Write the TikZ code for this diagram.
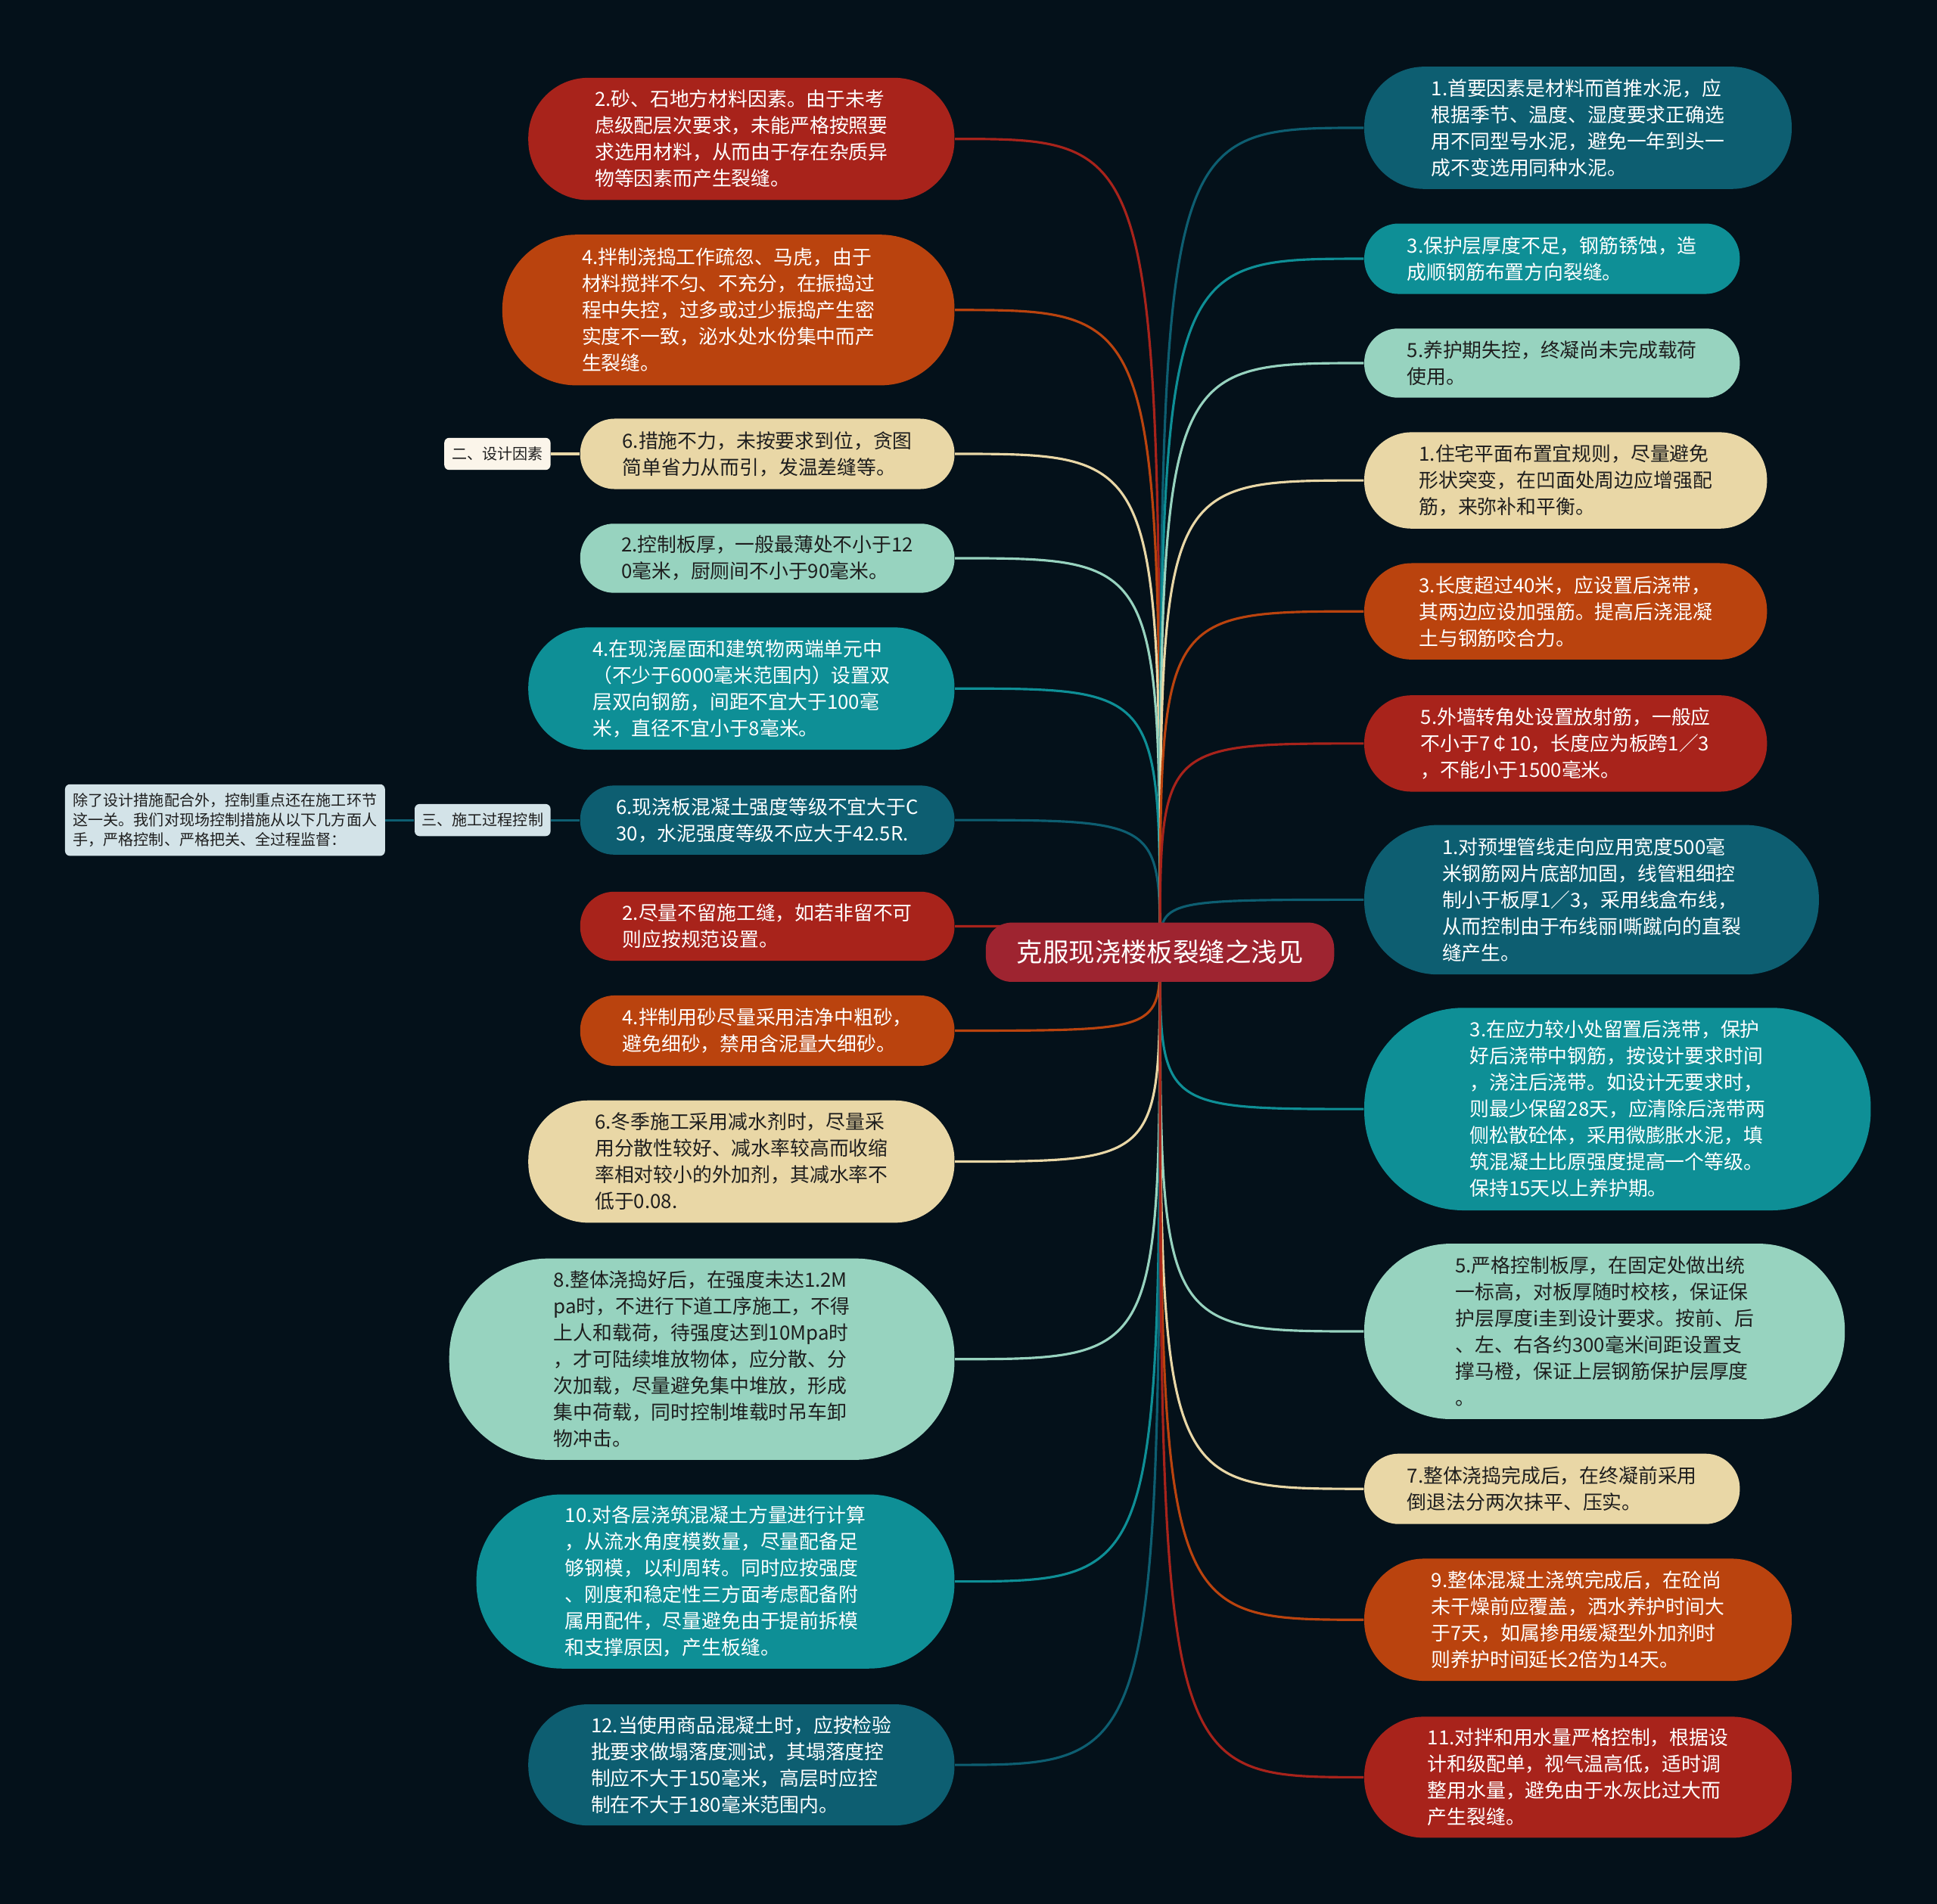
\documentclass[tikz,border=0pt]{standalone}
\usepackage{fontspec}
\setmainfont{Noto Sans CJK SC}
\usetikzlibrary{backgrounds}

\definecolor{bgdark}{HTML}{04111A}
\definecolor{cred}{HTML}{A8231B}
\definecolor{corange}{HTML}{BA430E}
\definecolor{cbeige}{HTML}{E9D7A6}
\definecolor{cmint}{HTML}{97D3BF}
\definecolor{cteal}{HTML}{0E8F96}
\definecolor{cpetrol}{HTML}{0D5E71}
\definecolor{croot}{HTML}{9E2430}
\definecolor{cnote}{HTML}{D3E3E8}
\definecolor{ccream}{HTML}{FBF5EA}
\definecolor{ink}{HTML}{1E1E1E}

\begin{document}
\begin{tikzpicture}[
        leaf/.style 2 args={
            minimum width=#1cm, minimum height=#2cm,
            rounded corners=#2*0.49cm, inner sep=2pt,
            align=left, text=white,
            font=\fontsize{9}{12.2}\selectfont,
        },
        light/.style={text=ink},
        root box/.style={
            fill=croot, text=white, rounded corners=0.42cm,
            minimum width=5.64cm, minimum height=0.96cm,
            font=\fontsize{12}{14}\selectfont,
        },
        tag/.style={
            rounded corners=0.08cm, text=ink, align=left,
            inner sep=2pt, font=\fontsize{7}{9}\selectfont,
        },
        link/.style={draw=#1, line width=1.1pt},
    ]
    \useasboundingbox (0,0) rectangle (31.36,-30.83);

    \node[root box] (root) at (18.78,-15.42) {克服现浇楼板裂缝之浅见};

    % left side
    \node[leaf={6.9}{1.98}, fill=cred, anchor=east] (L1) at (15.46,-2.25)
        {2.砂、石地方材料因素。由于未考\\虑级配层次要求，未能严格按照要\\求选用材料，从而由于存在杂质异\\物等因素而产生裂缝。};
    \node[leaf={7.32}{2.44}, fill=corange, anchor=east] (L2) at (15.46,-5.02)
        {4.拌制浇捣工作疏忽、马虎，由于\\材料搅拌不匀、不充分，在振捣过\\程中失控，过多或过少振捣产生密\\实度不一致，泌水处水份集中而产\\生裂缝。};
    \node[leaf={6.06}{1.14}, fill=cbeige, light, anchor=east] (L3) at (15.46,-7.35)
        {6.措施不力，未按要求到位，贪图\\简单省力从而引，发温差缝等。};
    \node[leaf={6.06}{1.12}, fill=cmint, light, anchor=east] (L4) at (15.46,-9.04)
        {2.控制板厚，一般最薄处不小于12\\0毫米，厨厕间不小于90毫米。};
    \node[leaf={6.9}{1.98}, fill=cteal, anchor=east] (L5) at (15.46,-11.15)
        {4.在现浇屋面和建筑物两端单元中\\（不少于6000毫米范围内）设置双\\层双向钢筋，间距不宜大于100毫\\米，直径不宜小于8毫米。};
    \node[leaf={6.06}{1.12}, fill=cpetrol, anchor=east] (L6) at (15.46,-13.28)
        {6.现浇板混凝土强度等级不宜大于C\\30，水泥强度等级不应大于42.5R.};
    \node[leaf={6.06}{1.12}, fill=cred, anchor=east] (L7) at (15.46,-15.00)
        {2.尽量不留施工缝，如若非留不可\\则应按规范设置。};
    \node[leaf={6.06}{1.14}, fill=corange, anchor=east] (L8) at (15.46,-16.69)
        {4.拌制用砂尽量采用洁净中粗砂，\\避免细砂，禁用含泥量大细砂。};
    \node[leaf={6.9}{1.98}, fill=cbeige, light, anchor=east] (L9) at (15.46,-18.81)
        {6.冬季施工采用减水剂时，尽量采\\用分散性较好、减水率较高而收缩\\率相对较小的外加剂，其减水率不\\低于0.08.};
    \node[leaf={8.18}{3.26}, fill=cmint, light, anchor=east] (L10) at (15.46,-22.01)
        {8.整体浇捣好后，在强度未达1.2M\\pa时，不进行下道工序施工，不得\\上人和载荷，待强度达到10Mpa时\\，才可陆续堆放物体，应分散、分\\次加载，尽量避免集中堆放，形成\\集中荷载，同时控制堆载时吊车卸\\物冲击。};
    \node[leaf={7.74}{2.82}, fill=cteal, anchor=east] (L11) at (15.46,-25.61)
        {10.对各层浇筑混凝土方量进行计算\\，从流水角度模数量，尽量配备足\\够钢模，以利周转。同时应按强度\\、刚度和稳定性三方面考虑配备附\\属用配件，尽量避免由于提前拆模\\和支撑原因，产生板缝。};
    \node[leaf={6.9}{1.96}, fill=cpetrol, anchor=east] (L12) at (15.46,-28.58)
        {12.当使用商品混凝土时，应按检验\\批要求做塌落度测试，其塌落度控\\制应不大于150毫米，高层时应控\\制在不大于180毫米范围内。};

    % tags on the left
    \node[tag, fill=ccream, minimum width=1.72cm, minimum height=0.52cm, anchor=east] (design) at (8.92,-7.35) {二、设计因素};
    \node[tag, fill=cnote, minimum width=2.2cm, minimum height=0.52cm, anchor=east] (build) at (8.92,-13.28) {三、施工过程控制};
    \node[tag, fill=cnote, minimum width=5.18cm, minimum height=1.16cm, anchor=east] (note) at (6.24,-13.28)
        {除了设计措施配合外，控制重点还在施工环节\\这一关。我们对现场控制措施从以下几方面人\\手，严格控制、严格把关、全过程监督：};

    % right side
    \node[leaf={6.92}{1.98}, fill=cpetrol, anchor=west] (R1) at (22.08,-2.07)
        {1.首要因素是材料而首推水泥，应\\根据季节、温度、湿度要求正确选\\用不同型号水泥，避免一年到头一\\成不变选用同种水泥。};
    \node[leaf={6.08}{1.14}, fill=cteal, anchor=west] (R2) at (22.08,-4.19)
        {3.保护层厚度不足，钢筋锈蚀，造\\成顺钢筋布置方向裂缝。};
    \node[leaf={6.08}{1.12}, fill=cmint, light, anchor=west] (R3) at (22.08,-5.88)
        {5.养护期失控，终凝尚未完成载荷\\使用。};
    \node[leaf={6.52}{1.56}, fill=cbeige, light, anchor=west] (R4) at (22.08,-7.78)
        {1.住宅平面布置宜规则，尽量避免\\形状突变，在凹面处周边应增强配\\筋，来弥补和平衡。};
    \node[leaf={6.52}{1.56}, fill=corange, anchor=west] (R5) at (22.08,-9.90)
        {3.长度超过40米，应设置后浇带，\\其两边应设加强筋。提高后浇混凝\\土与钢筋咬合力。};
    \node[leaf={6.52}{1.56}, fill=cred, anchor=west] (R6) at (22.08,-12.04)
        {5.外墙转角处设置放射筋，一般应\\不小于7￠10，长度应为板跨1／3\\，不能小于1500毫米。};
    \node[leaf={7.36}{2.42}, fill=cpetrol, anchor=west] (R7) at (22.08,-14.57)
        {1.对预埋管线走向应用宽度500毫\\米钢筋网片底部加固，线管粗细控\\制小于板厚1／3，采用线盒布线，\\从而控制由于布线丽I嘶蹴向的直裂\\缝产生。};
    \node[leaf={8.2}{3.28}, fill=cteal, anchor=west] (R8) at (22.08,-17.96)
        {3.在应力较小处留置后浇带，保护\\好后浇带中钢筋，按设计要求时间\\，浇注后浇带。如设计无要求时，\\则最少保留28天，应清除后浇带两\\侧松散砼体，采用微膨胀水泥，填\\筑混凝土比原强度提高一个等级。\\保持15天以上养护期。};
    \node[leaf={7.78}{2.84}, fill=cmint, light, anchor=west] (R9) at (22.08,-21.56)
        {5.严格控制板厚，在固定处做出统\\一标高，对板厚随时校核，保证保\\护层厚度i圭到设计要求。按前、后\\、左、右各约300毫米间距设置支\\撑马橙，保证上层钢筋保护层厚度\\。};
    \node[leaf={6.08}{1.14}, fill=cbeige, light, anchor=west] (R10) at (22.08,-24.11)
        {7.整体浇捣完成后，在终凝前采用\\倒退法分两次抹平、压实。};
    \node[leaf={6.92}{1.98}, fill=corange, anchor=west] (R11) at (22.08,-26.23)
        {9.整体混凝土浇筑完成后，在砼尚\\未干燥前应覆盖，洒水养护时间大\\于7天，如属掺用缓凝型外加剂时\\则养护时间延长2倍为14天。};
    \node[leaf={6.92}{1.96}, fill=cred, anchor=west] (R12) at (22.08,-28.78)
        {11.对拌和用水量严格控制，根据设\\计和级配单，视气温高低，适时调\\整用水量，避免由于水灰比过大而\\产生裂缝。};

    \begin{scope}[on background layer]
        \fill[bgdark] (0,0) rectangle (31.36,-30.83);
        % branches to the left
        \draw[link=cred]    (root.center) .. controls (root.center |- L1.east) .. (L1.east);
        \draw[link=corange] (root.center) .. controls (root.center |- L2.east) .. (L2.east);
        \draw[link=cbeige]  (root.center) .. controls (root.center |- L3.east) .. (L3.east);
        \draw[link=cmint]   (root.center) .. controls (root.center |- L4.east) .. (L4.east);
        \draw[link=cteal]   (root.center) .. controls (root.center |- L5.east) .. (L5.east);
        \draw[link=cpetrol] (root.center) .. controls (root.center |- L6.east) .. (L6.east);
        \draw[link=cred]    (root.center) .. controls (root.center |- L7.east) .. (L7.east);
        \draw[link=corange] (root.center) .. controls (root.center |- L8.east) .. (L8.east);
        \draw[link=cbeige]  (root.center) .. controls (root.center |- L9.east) .. (L9.east);
        \draw[link=cmint]   (root.center) .. controls (root.center |- L10.east) .. (L10.east);
        \draw[link=cteal]   (root.center) .. controls (root.center |- L11.east) .. (L11.east);
        \draw[link=cpetrol] (root.center) .. controls (root.center |- L12.east) .. (L12.east);
        % branches to the right
        \draw[link=cpetrol] (root.center) .. controls (root.center |- R1.west) .. (R1.west);
        \draw[link=cteal]   (root.center) .. controls (root.center |- R2.west) .. (R2.west);
        \draw[link=cmint]   (root.center) .. controls (root.center |- R3.west) .. (R3.west);
        \draw[link=cbeige]  (root.center) .. controls (root.center |- R4.west) .. (R4.west);
        \draw[link=corange] (root.center) .. controls (root.center |- R5.west) .. (R5.west);
        \draw[link=cred]    (root.center) .. controls (root.center |- R6.west) .. (R6.west);
        \draw[link=cpetrol] (root.center) .. controls (root.center |- R7.west) .. (R7.west);
        \draw[link=cteal]   (root.center) .. controls (root.center |- R8.west) .. (R8.west);
        \draw[link=cmint]   (root.center) .. controls (root.center |- R9.west) .. (R9.west);
        \draw[link=cbeige]  (root.center) .. controls (root.center |- R10.west) .. (R10.west);
        \draw[link=corange] (root.center) .. controls (root.center |- R11.west) .. (R11.west);
        \draw[link=cred]    (root.center) .. controls (root.center |- R12.west) .. (R12.west);
        % tags
        \draw[link=cbeige]  (design.east) -- (L3.west);
        \draw[link=cpetrol] (build.east) -- (L6.west);
        \draw[link=cpetrol] (note.east) -- (build.west);
    \end{scope}
\end{tikzpicture}
\end{document}
